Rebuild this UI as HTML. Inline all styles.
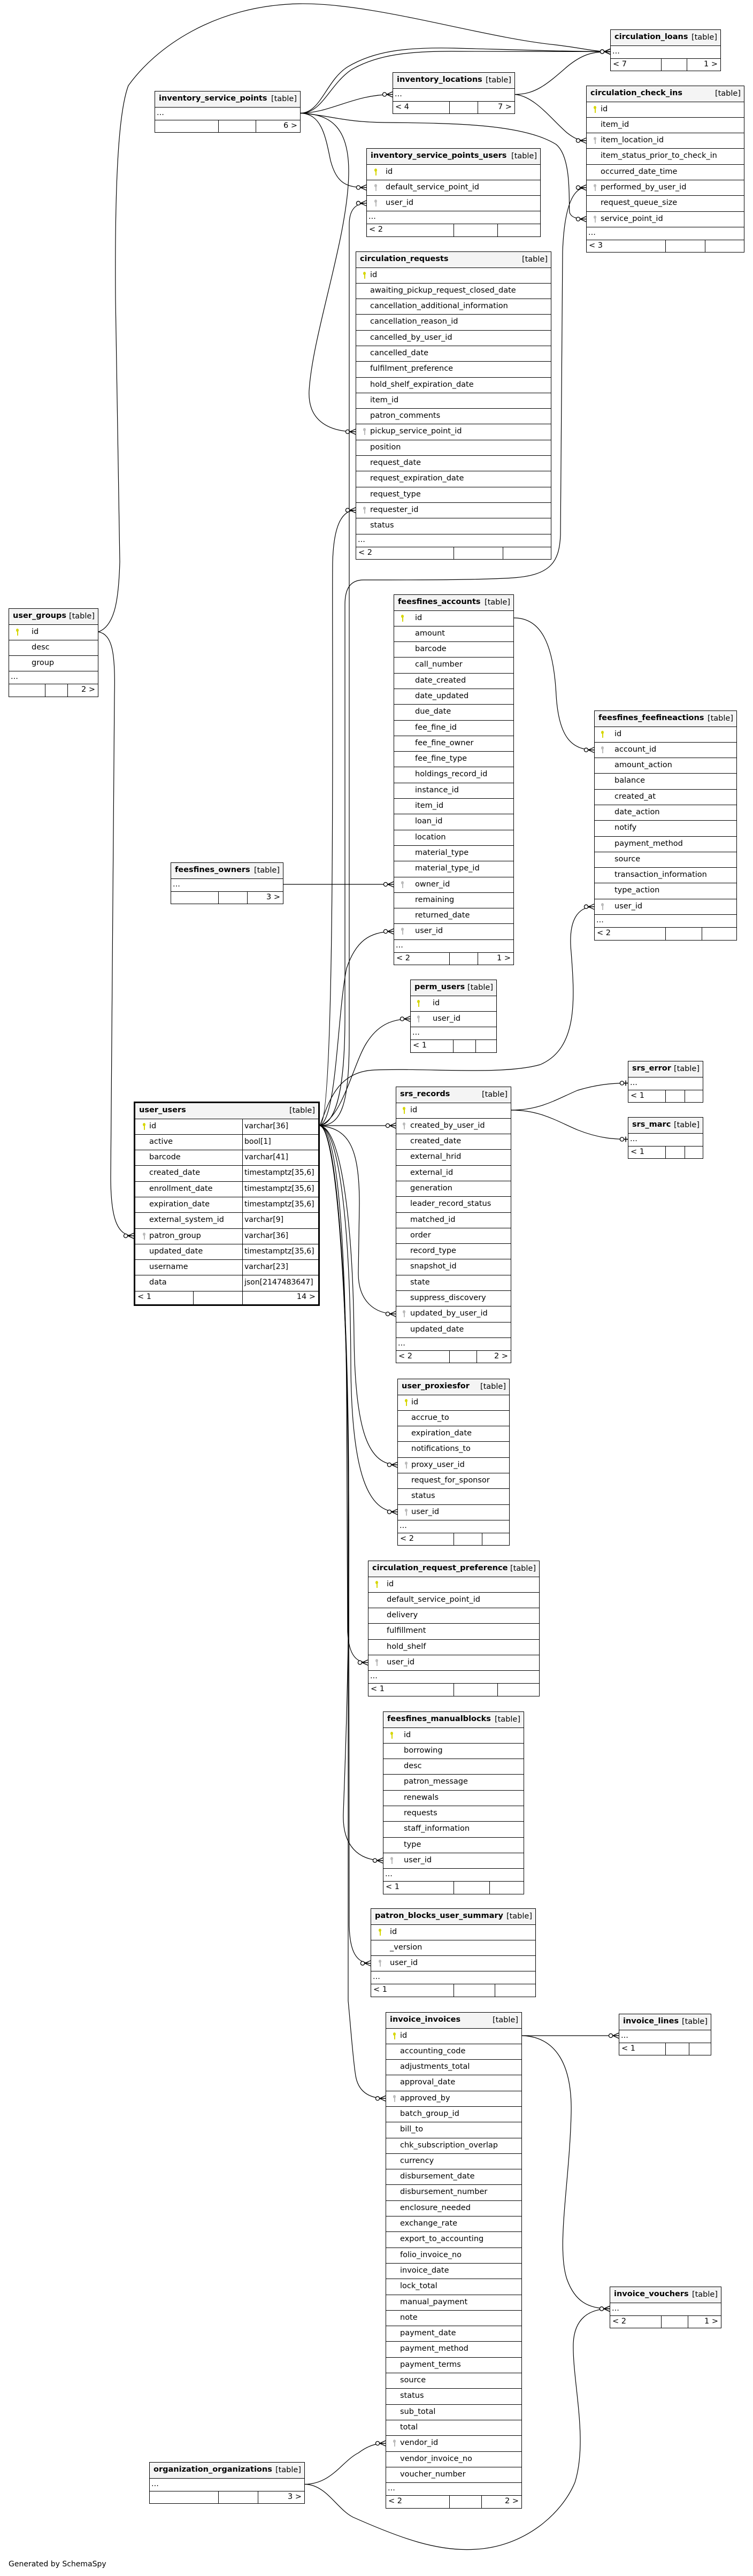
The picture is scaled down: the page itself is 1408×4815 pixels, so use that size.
<!DOCTYPE html>
<html><head><meta charset="utf-8"><style>
html,body{margin:0;padding:0;background:#fff}
body{width:1408px;height:4815px;position:relative;overflow:hidden;font-family:"DejaVu Sans","Liberation Sans",sans-serif;font-size:14.5px;color:#000}
svg.lines{position:absolute;left:0;top:0;z-index:0}
.t{position:absolute;border:1px solid #000;background:#fff;box-sizing:border-box;z-index:1}
.h{height:29.5px;box-sizing:border-box;background:#f4f4f4;border-bottom:1.5px solid #000;position:relative;line-height:27px;padding-left:7px;white-space:nowrap}
.h b{font-weight:bold}
.h span{position:absolute;right:6px;top:1px}
.r{position:relative;height:29.3px;box-sizing:border-box;border-bottom:1.5px solid #000;padding-left:var(--x);line-height:27px;white-space:nowrap}
.d{height:24px;box-sizing:border-box;border-bottom:1.5px solid #000;line-height:20px;padding-left:3px}
.f{height:22.5px;position:relative;line-height:21px}
.f i{position:absolute;top:0;bottom:0;border-left:1px solid #000}
.f .l{position:absolute;left:4px}
.f .rr{position:absolute;right:5px}
.k{position:absolute;left:var(--k);top:7px;width:5px;height:14px;color:#bbb}
.k.p{color:#d6d600}
.k::before{content:"";position:absolute;left:0;top:0;width:5px;height:6px;border-radius:50%;background:currentColor}
.k::after{content:"";position:absolute;left:2px;top:4px;width:1.5px;height:9px;background:currentColor}
.u .r span.ty{position:absolute;left:204px;font-size:14px}
.u .r i.cd{position:absolute;left:200px;top:0;bottom:0;border-left:1.5px solid #000}
.gen{position:absolute;left:16px;top:4785px;font-size:14px}
</style></head><body>

<svg class="lines" width="1408" height="4815" viewBox="0 0 1408 4815">
<defs>
<marker id="cf" markerUnits="userSpaceOnUse" markerWidth="24" markerHeight="14" viewBox="-22 -7 24 14" refX="0" refY="0" orient="auto" overflow="visible">
<path d="M-11,0 L0,-5 M-11,0 L0,0 M-11,0 L0,5" stroke="#000" stroke-width="1.3" fill="none"/>
<circle cx="-15" cy="0" r="3.6" fill="#fff" stroke="#000" stroke-width="1.3"/>
</marker>
<marker id="ob" markerUnits="userSpaceOnUse" markerWidth="24" markerHeight="14" viewBox="-22 -7 24 14" refX="0" refY="0" orient="auto" overflow="visible">
<path d="M-4,-5 L-4,5 M-8,0 L0,0" stroke="#000" stroke-width="1.5" fill="none"/>
<circle cx="-11" cy="0" r="3.6" fill="#fff" stroke="#000" stroke-width="1.3"/>
</marker>
</defs>
<g fill="none" stroke="#000" stroke-width="1.2">
<path marker-end="url(#cf)" d="M184,1181 C215,1170 222,1120 224,1050 L216,560 C214,300 225,200 240,160 C290,90 400,10 560,7 C700,5 900,70 1040,84 C1090,90 1110,96.5 1141,96.5"/>
<path marker-end="url(#cf)" d="M562,211.5 C600,211 610,150 650,125 C700,95 760,88 850,90 C1000,94 1080,96.5 1141,96.5"/>
<path marker-end="url(#cf)" d="M562,211.5 C602,212 615,160 656,131 C706,101 770,95 860,96 C1000,97 1080,96.5 1141,96.5"/>
<path marker-end="url(#cf)" d="M963,176.5 C1000,176 1020,160 1060,125 C1090,100 1110,96.5 1141,96.5"/>
<path marker-end="url(#cf)" d="M562,211.5 C620,211 660,176.5 734,176.5"/>
<path marker-end="url(#cf)" d="M562,211.5 C600,213 608,250 618,300 C630,345 650,350.5 685,350.5"/>
<path marker-end="url(#cf)" d="M562,211.5 C620,213 652,240 652,320 C652,440 585,620 578,730 C575,790 620,807 665,807"/>
<path marker-end="url(#cf)" d="M562,211.5 C620,216 640,228 720,229 C850,230 980,232 1040,270 C1070,295 1063,380 1065,397 C1068,407 1080,409.5 1096,409.5"/>
<path marker-end="url(#cf)" d="M963,176.5 C1000,180 1030,222 1060,248 C1075,260 1085,262.8 1096,262.8"/>
<path marker-end="url(#cf)" d="M598,2104 C640,2104 652,2060 653,1950 L653,420 C653,392 665,379.8 685,379.8"/>
<path marker-end="url(#cf)" d="M598,2104 C630,2100 620,1150 622,1050 C624,980 640,953.6 665,953.6"/>
<path marker-end="url(#cf)" d="M598,2104 C625,2100 645,2050 645,1900 L645,1130 C645,1100 655,1084 680,1084 C800,1084 900,1084 960,1080 C1030,1075 1046,1050 1048,1000 L1052,470 C1055,390 1070,350.6 1096,350.6"/>
<path marker-end="url(#cf)" d="M598,2104 C630,2090 630,1900 648,1810 C665,1760 690,1741 736,1741"/>
<path marker-end="url(#cf)" d="M530,1653 L736,1653"/>
<path marker-end="url(#cf)" d="M961,1155 C1010,1155 1035,1200 1040,1300 C1045,1380 1070,1401.8 1111,1401.8"/>
<path marker-end="url(#cf)" d="M598,2104 C640,2090 660,1990 685,1950 C705,1918 730,1904.5 767,1904.5"/>
<path marker-end="url(#cf)" d="M598,2104 C615,2060 630,2003 700,2000 C800,1996 940,2010 1010,1990 C1080,1960 1075,1870 1068,1780 C1062,1720 1080,1694.8 1111,1694.8"/>
<path marker-end="url(#ob)" d="M956,2075 C1010,2075 1040,2055 1080,2038 C1120,2026 1150,2024.5 1174,2024.5"/>
<path marker-end="url(#ob)" d="M956,2075 C1010,2075 1040,2095 1080,2112 C1120,2128 1150,2129.5 1174,2129.5"/>
<path marker-end="url(#cf)" d="M598,2104 L740,2104"/>
<path marker-end="url(#cf)" d="M598,2104 C650,2110 672,2140 672,2250 L670,2380 C670,2432 700,2456 740,2456"/>
<path marker-end="url(#cf)" d="M184,1181 C210,1186 216,1220 214,1300 L207,2200 C207,2280 220,2310 250,2310"/>
<path marker-end="url(#cf)" d="M598,2104 C640,2110 660,2300 662,2500 C664,2680 690,2738 743,2738"/>
<path marker-end="url(#cf)" d="M598,2104 C635,2110 655,2300 656,2550 C657,2760 690,2826 743,2826"/>
<path marker-end="url(#cf)" d="M598,2104 C630,2110 645,2300 648,2600 L650,3050 C652,3092 665,3107.6 688,3107.6"/>
<path marker-end="url(#cf)" d="M598,2104 C628,2110 650,2400 652,2800 C654,3100 645,3300 642,3390 C640,3450 670,3477.6 716,3477.6"/>
<path marker-end="url(#cf)" d="M598,2104 C628,2110 652,2400 652,2800 L653,3600 C654,3645 665,3669.7 693,3669.7"/>
<path marker-end="url(#cf)" d="M598,2104 C630,2110 650,2400 651,2800 L651,3740 C655,3780 660,3850 665,3880 C670,3910 690,3922.4 721,3922.4"/>
<path marker-end="url(#cf)" d="M976,3805 L1157,3805"/>
<path marker-end="url(#cf)" d="M976,3805 C1040,3807 1070,3860 1068,3950 C1065,4080 1040,4200 1060,4260 C1075,4302 1100,4315.5 1140,4315.5"/>
<path marker-end="url(#cf)" d="M570,4643.5 C620,4643 640,4600 670,4585 C690,4570 705,4567 721,4567"/>
<path marker-end="url(#cf)" d="M570,4643.5 C610,4644 630,4690 660,4705 C750,4745 820,4770 890,4765 C980,4760 1050,4700 1075,4640 C1100,4560 1070,4450 1072,4380 C1074,4335 1100,4315.5 1140,4315.5"/>
</g>
</svg>

<div class="t" style="left:1141px;top:55px;width:207px">
<div class="h"><b>circulation_loans</b> <span>[table]</span></div>
<div class="d">...</div>
<div class="f"><i style="left:94px"></i><i style="left:142px"></i><span class="l">&lt; 7</span><span class="rr">1 &gt;</span></div>
</div>

<div class="t" style="left:734px;top:135px;width:229px">
<div class="h"><b>inventory_locations</b> <span>[table]</span></div>
<div class="d">...</div>
<div class="f"><i style="left:105px"></i><i style="left:158px"></i><span class="l">&lt; 4</span><span class="rr">7 &gt;</span></div>
</div>

<div class="t" style="left:289px;top:170px;width:273px">
<div class="h"><b>inventory_service_points</b> <span>[table]</span></div>
<div class="d">...</div>
<div class="f"><i style="left:118px"></i><i style="left:188px"></i><span class="rr">6 &gt;</span></div>
</div>

<div class="t" style="left:1096px;top:160px;width:296px;--k:13px;--x:26px">
<div class="h"><b>circulation_check_ins</b> <span>[table]</span></div>
<div class="r"><i class="k p"></i>id</div>
<div class="r">item_id</div>
<div class="r"><i class="k"></i>item_location_id</div>
<div class="r">item_status_prior_to_check_in</div>
<div class="r">occurred_date_time</div>
<div class="r"><i class="k"></i>performed_by_user_id</div>
<div class="r">request_queue_size</div>
<div class="r"><i class="k"></i>service_point_id</div>
<div class="d">...</div>
<div class="f"><i style="left:147px"></i><i style="left:221px"></i><span class="l">&lt; 3</span></div>
</div>

<div class="t" style="left:685px;top:277px;width:326px;--k:14px;--x:35px">
<div class="h"><b>inventory_service_points_users</b> <span>[table]</span></div>
<div class="r"><i class="k p"></i>id</div>
<div class="r"><i class="k"></i>default_service_point_id</div>
<div class="r"><i class="k"></i>user_id</div>
<div class="d">...</div>
<div class="f"><i style="left:162px"></i><i style="left:244px"></i><span class="l">&lt; 2</span></div>
</div>

<div class="t" style="left:665px;top:470px;width:366px;--k:13px;--x:26px">
<div class="h"><b>circulation_requests</b> <span>[table]</span></div>
<div class="r"><i class="k p"></i>id</div>
<div class="r">awaiting_pickup_request_closed_date</div>
<div class="r">cancellation_additional_information</div>
<div class="r">cancellation_reason_id</div>
<div class="r">cancelled_by_user_id</div>
<div class="r">cancelled_date</div>
<div class="r">fulfilment_preference</div>
<div class="r">hold_shelf_expiration_date</div>
<div class="r">item_id</div>
<div class="r">patron_comments</div>
<div class="r"><i class="k"></i>pickup_service_point_id</div>
<div class="r">position</div>
<div class="r">request_date</div>
<div class="r">request_expiration_date</div>
<div class="r">request_type</div>
<div class="r"><i class="k"></i>requester_id</div>
<div class="r">status</div>
<div class="d">...</div>
<div class="f"><i style="left:182px"></i><i style="left:274px"></i><span class="l">&lt; 2</span></div>
</div>

<div class="t" style="left:16px;top:1137px;width:168px;--k:13px;--x:42px">
<div class="h"><b>user_groups</b> <span>[table]</span></div>
<div class="r"><i class="k p"></i>id</div>
<div class="r">desc</div>
<div class="r">group</div>
<div class="d">...</div>
<div class="f"><i style="left:67px"></i><i style="left:109px"></i><span class="rr">2 &gt;</span></div>
</div>

<div class="t" style="left:736px;top:1111px;width:225px;--k:13px;--x:39px">
<div class="h"><b>feesfines_accounts</b> <span>[table]</span></div>
<div class="r"><i class="k p"></i>id</div>
<div class="r">amount</div>
<div class="r">barcode</div>
<div class="r">call_number</div>
<div class="r">date_created</div>
<div class="r">date_updated</div>
<div class="r">due_date</div>
<div class="r">fee_fine_id</div>
<div class="r">fee_fine_owner</div>
<div class="r">fee_fine_type</div>
<div class="r">holdings_record_id</div>
<div class="r">instance_id</div>
<div class="r">item_id</div>
<div class="r">loan_id</div>
<div class="r">location</div>
<div class="r">material_type</div>
<div class="r">material_type_id</div>
<div class="r"><i class="k"></i>owner_id</div>
<div class="r">remaining</div>
<div class="r">returned_date</div>
<div class="r"><i class="k"></i>user_id</div>
<div class="d">...</div>
<div class="f"><i style="left:103px"></i><i style="left:156px"></i><span class="l">&lt; 2</span><span class="rr">1 &gt;</span></div>
</div>

<div class="t" style="left:1111px;top:1328px;width:267px;--k:12px;--x:37px">
<div class="h"><b>feesfines_feefineactions</b> <span>[table]</span></div>
<div class="r"><i class="k p"></i>id</div>
<div class="r"><i class="k"></i>account_id</div>
<div class="r">amount_action</div>
<div class="r">balance</div>
<div class="r">created_at</div>
<div class="r">date_action</div>
<div class="r">notify</div>
<div class="r">payment_method</div>
<div class="r">source</div>
<div class="r">transaction_information</div>
<div class="r">type_action</div>
<div class="r"><i class="k"></i>user_id</div>
<div class="d">...</div>
<div class="f"><i style="left:132px"></i><i style="left:200px"></i><span class="l">&lt; 2</span></div>
</div>

<div class="t" style="left:319px;top:1612px;width:211px">
<div class="h"><b>feesfines_owners</b> <span>[table]</span></div>
<div class="d">...</div>
<div class="f"><i style="left:88px"></i><i style="left:142px"></i><span class="rr">3 &gt;</span></div>
</div>

<div class="t" style="left:767px;top:1831px;width:162px;--k:12px;--x:41px">
<div class="h"><b>perm_users</b> <span>[table]</span></div>
<div class="r"><i class="k p"></i>id</div>
<div class="r"><i class="k"></i>user_id</div>
<div class="d">...</div>
<div class="f"><i style="left:79px"></i><i style="left:121px"></i><span class="l">&lt; 1</span></div>
</div>

<div class="t" style="left:1174px;top:1983px;width:141px">
<div class="h"><b>srs_error</b> <span>[table]</span></div>
<div class="d">...</div>
<div class="f"><i style="left:69px"></i><i style="left:105px"></i><span class="l">&lt; 1</span></div>
</div>

<div class="t" style="left:1174px;top:2088px;width:141px">
<div class="h"><b>srs_marc</b> <span>[table]</span></div>
<div class="d">...</div>
<div class="f"><i style="left:69px"></i><i style="left:105px"></i><span class="l">&lt; 1</span></div>
</div>

<div class="t" style="left:740px;top:2031px;width:216px;--k:12px;--x:26px">
<div class="h"><b>srs_records</b> <span>[table]</span></div>
<div class="r"><i class="k p"></i>id</div>
<div class="r"><i class="k"></i>created_by_user_id</div>
<div class="r">created_date</div>
<div class="r">external_hrid</div>
<div class="r">external_id</div>
<div class="r">generation</div>
<div class="r">leader_record_status</div>
<div class="r">matched_id</div>
<div class="r">order</div>
<div class="r">record_type</div>
<div class="r">snapshot_id</div>
<div class="r">state</div>
<div class="r">suppress_discovery</div>
<div class="r"><i class="k"></i>updated_by_user_id</div>
<div class="r">updated_date</div>
<div class="d">...</div>
<div class="f"><i style="left:99px"></i><i style="left:150px"></i><span class="l">&lt; 2</span><span class="rr">2 &gt;</span></div>
</div>

<div class="t u" style="left:250px;top:2059px;width:348px;border:3px solid #000;--k:14px;--x:26px">
<div class="h"><b>user_users</b> <span>[table]</span></div>
<div class="r"><i class="k p"></i>id<i class="cd"></i><span class="ty">varchar[36]</span></div>
<div class="r">active<i class="cd"></i><span class="ty">bool[1]</span></div>
<div class="r">barcode<i class="cd"></i><span class="ty">varchar[41]</span></div>
<div class="r">created_date<i class="cd"></i><span class="ty">timestamptz[35,6]</span></div>
<div class="r">enrollment_date<i class="cd"></i><span class="ty">timestamptz[35,6]</span></div>
<div class="r">expiration_date<i class="cd"></i><span class="ty">timestamptz[35,6]</span></div>
<div class="r">external_system_id<i class="cd"></i><span class="ty">varchar[9]</span></div>
<div class="r"><i class="k"></i>patron_group<i class="cd"></i><span class="ty">varchar[36]</span></div>
<div class="r">updated_date<i class="cd"></i><span class="ty">timestamptz[35,6]</span></div>
<div class="r">username<i class="cd"></i><span class="ty">varchar[23]</span></div>
<div class="r">data<i class="cd"></i><span class="ty">json[2147483647]</span></div>
<div class="f" style="height:24px"><i style="left:108px"></i><i style="left:200px"></i><span class="l">&lt; 1</span><span class="rr">14 &gt;</span></div>
</div>

<div class="t" style="left:743px;top:2577px;width:210px;--k:13px;--x:25px">
<div class="h"><b>user_proxiesfor</b> <span>[table]</span></div>
<div class="r"><i class="k p"></i>id</div>
<div class="r">accrue_to</div>
<div class="r">expiration_date</div>
<div class="r">notifications_to</div>
<div class="r"><i class="k"></i>proxy_user_id</div>
<div class="r">request_for_sponsor</div>
<div class="r">status</div>
<div class="r"><i class="k"></i>user_id</div>
<div class="d">...</div>
<div class="f"><i style="left:104px"></i><i style="left:157px"></i><span class="l">&lt; 2</span></div>
</div>

<div class="t" style="left:688px;top:2917px;width:321px;--k:13px;--x:34px">
<div class="h"><b>circulation_request_preference</b> <span>[table]</span></div>
<div class="r"><i class="k p"></i>id</div>
<div class="r">default_service_point_id</div>
<div class="r">delivery</div>
<div class="r">fulfillment</div>
<div class="r">hold_shelf</div>
<div class="r"><i class="k"></i>user_id</div>
<div class="d">...</div>
<div class="f"><i style="left:159px"></i><i style="left:241px"></i><span class="l">&lt; 1</span></div>
</div>

<div class="t" style="left:716px;top:3199px;width:264px;--k:13px;--x:38px">
<div class="h"><b>feesfines_manualblocks</b> <span>[table]</span></div>
<div class="r"><i class="k p"></i>id</div>
<div class="r">borrowing</div>
<div class="r">desc</div>
<div class="r">patron_message</div>
<div class="r">renewals</div>
<div class="r">requests</div>
<div class="r">staff_information</div>
<div class="r">type</div>
<div class="r"><i class="k"></i>user_id</div>
<div class="d">...</div>
<div class="f"><i style="left:131px"></i><i style="left:198px"></i><span class="l">&lt; 1</span></div>
</div>

<div class="t" style="left:693px;top:3567px;width:309px;--k:14px;--x:35px">
<div class="h"><b>patron_blocks_user_summary</b> <span>[table]</span></div>
<div class="r"><i class="k p"></i>id</div>
<div class="r">_version</div>
<div class="r"><i class="k"></i>user_id</div>
<div class="d">...</div>
<div class="f"><i style="left:154px"></i><i style="left:231px"></i><span class="l">&lt; 1</span></div>
</div>

<div class="t" style="left:721px;top:3761px;width:255px;--k:13px;--x:26px">
<div class="h"><b>invoice_invoices</b> <span>[table]</span></div>
<div class="r"><i class="k p"></i>id</div>
<div class="r">accounting_code</div>
<div class="r">adjustments_total</div>
<div class="r">approval_date</div>
<div class="r"><i class="k"></i>approved_by</div>
<div class="r">batch_group_id</div>
<div class="r">bill_to</div>
<div class="r">chk_subscription_overlap</div>
<div class="r">currency</div>
<div class="r">disbursement_date</div>
<div class="r">disbursement_number</div>
<div class="r">enclosure_needed</div>
<div class="r">exchange_rate</div>
<div class="r">export_to_accounting</div>
<div class="r">folio_invoice_no</div>
<div class="r">invoice_date</div>
<div class="r">lock_total</div>
<div class="r">manual_payment</div>
<div class="r">note</div>
<div class="r">payment_date</div>
<div class="r">payment_method</div>
<div class="r">payment_terms</div>
<div class="r">source</div>
<div class="r">status</div>
<div class="r">sub_total</div>
<div class="r">total</div>
<div class="r"><i class="k"></i>vendor_id</div>
<div class="r">vendor_invoice_no</div>
<div class="r">voucher_number</div>
<div class="d">...</div>
<div class="f"><i style="left:118px"></i><i style="left:178px"></i><span class="l">&lt; 2</span><span class="rr">2 &gt;</span></div>
</div>

<div class="t" style="left:1157px;top:3764px;width:173px">
<div class="h"><b>invoice_lines</b> <span>[table]</span></div>
<div class="d">...</div>
<div class="f"><i style="left:86px"></i><i style="left:130px"></i><span class="l">&lt; 1</span></div>
</div>

<div class="t" style="left:1140px;top:4274px;width:209px">
<div class="h"><b>invoice_vouchers</b> <span>[table]</span></div>
<div class="d">...</div>
<div class="f"><i style="left:95px"></i><i style="left:145px"></i><span class="l">&lt; 2</span><span class="rr">1 &gt;</span></div>
</div>

<div class="t" style="left:279px;top:4602px;width:291px">
<div class="h"><b>organization_organizations</b> <span>[table]</span></div>
<div class="d">...</div>
<div class="f"><i style="left:128px"></i><i style="left:202px"></i><span class="rr">3 &gt;</span></div>
</div>

<div class="gen">Generated by SchemaSpy</div>
</body></html>
